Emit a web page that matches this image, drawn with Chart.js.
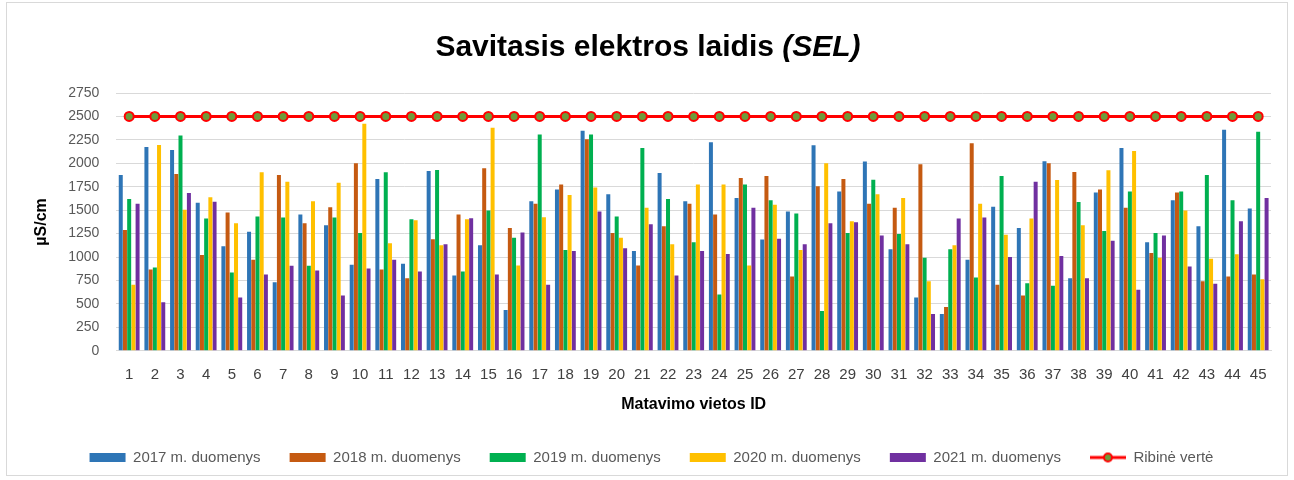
<!DOCTYPE html>
<html>
<head>
<meta charset="utf-8">
<script src="https://cdn.jsdelivr.net/npm/chart.js@4.4.1/dist/chart.umd.min.js"></script>
<style>
  html, body { margin: 0; padding: 0; background: #fff; }
  #wrap { width: 1294px; height: 480px; position: relative; }
</style>
</head>
<body>
<div id="wrap"><canvas id="selChart" width="1294" height="480"></canvas></div>
<script>
// --- data ---
const categories = ['1','2','3','4','5','6','7','8','9','10','11','12','13','14','15','16','17','18','19','20','21','22','23',
  '24','25','26','27','28','29','30','31','32','33','34','35','36','37','38','39','40','41','42','43','44','45'];

const y2017 = [1875, 2175, 2143, 1579, 1114, 1271, 732, 1454, 1339, 918, 1832, 929, 1918, 804, 1125, 436, 1596, 1721, 2346, 1671,
  1064, 1896, 1596, 2225, 1629, 1186, 1486, 2193, 1700, 2018, 1082, 568, 393, 971, 1536, 1311, 2021, 775, 1689, 2164,
  1157, 1607, 1329, 2357, 1518];
const y2018 = [1289, 868, 1886, 1021, 1475, 971, 1875, 1361, 1532, 2000, 868, 775, 1189, 1454, 1946, 1311, 1568, 1775, 2257, 1257,
  911, 1329, 1568, 1454, 1843, 1864, 793, 1754, 1832, 1568, 1525, 1989, 468, 2214, 704, 589, 2000, 1907, 1721, 1525,
  1043, 1689, 743, 793, 814];
const y2019 = [1618, 889, 2296, 1411, 836, 1432, 1421, 907, 1421, 1257, 1904, 1404, 1929, 846, 1496, 1207, 2307, 1075, 2307, 1432,
  2164, 1618, 1157, 600, 1775, 1607, 1464, 425, 1257, 1825, 1246, 993, 1082, 782, 1864, 721, 693, 1586, 1279, 1700,
  1257, 1700, 1875, 1607, 2336];
const y2020 = [704, 2196, 1504, 1639, 1361, 1904, 1804, 1596, 1793, 2421, 1146, 1393, 1125, 1404, 2379, 911, 1425, 1661, 1743, 1207,
  1525, 1136, 1775, 1775, 911, 1557, 1075, 2000, 1382, 1671, 1629, 743, 1125, 1568, 1239, 1411, 1821, 1339, 1925, 2132,
  993, 1496, 982, 1029, 764];
const y2021 = [1568, 518, 1682, 1589, 568, 814, 907, 857, 589, 879, 971, 846, 1136, 1414, 814, 1261, 704, 1064, 1486, 1093,
  1350, 804, 1064, 1032, 1525, 1196, 1136, 1361, 1371, 1229, 1136, 393, 1411, 1421, 1000, 1804, 1011, 775, 1175, 650,
  1229, 900, 714, 1382, 1629];
const ribineVerte = [2500, 2500, 2500, 2500, 2500, 2500, 2500, 2500, 2500, 2500, 2500, 2500, 2500, 2500, 2500,
  2500, 2500, 2500, 2500, 2500, 2500, 2500, 2500, 2500, 2500, 2500, 2500, 2500, 2500, 2500,
  2500, 2500, 2500, 2500, 2500, 2500, 2500, 2500, 2500, 2500, 2500, 2500, 2500, 2500, 2500];

const seriesNames = ['2017 m. duomenys', '2018 m. duomenys', '2019 m. duomenys', '2020 m. duomenys', '2021 m. duomenys', 'Ribinė vertė'];
const barColors = ['#2E75B6', '#C55A11', '#00B050', '#FFC000', '#7030A0'];

const FONT = "'Liberation Sans Narrow', 'Liberation Sans', Arial, sans-serif";

// legend symbol for the threshold line: red stroke with a green dot
const lineIcon = document.createElement('canvas');
lineIcon.width = 36; lineIcon.height = 12;
(function () {
  const c = lineIcon.getContext('2d');
  c.strokeStyle = '#FF0000'; c.lineWidth = 3;
  c.beginPath(); c.moveTo(0, 6); c.lineTo(36, 6); c.stroke();
  c.beginPath(); c.arc(18, 6, 4, 0, Math.PI * 2);
  c.fillStyle = '#6E9B3A'; c.fill();
  c.lineWidth = 2; c.stroke();
})();

// title with italic part + outer frame
const decor = {
  id: 'decor',
  beforeDraw(chart) {
    const c = chart.ctx;
    c.save();
    c.strokeStyle = '#D9D9D9'; c.lineWidth = 1;
    c.strokeRect(6.5, 2.5, 1281, 473);
    c.restore();
  },
  afterDraw(chart) {
    const c = chart.ctx;
    c.save();
    c.fillStyle = '#000';
    c.textBaseline = 'middle';
    const a = 'Savitasis elektros laidis ';
    const b = '(SEL)';
    const fa = 'bold 30px ' + FONT;
    const fb = 'italic bold 30px ' + FONT;
    c.font = fa; const wa = c.measureText(a).width;
    c.font = fb; const wb = c.measureText(b).width;
    let x = 648 - (wa + wb) / 2;
    c.font = fa; c.fillText(a, x, 48);
    c.font = fb; c.fillText(b, x + wa, 48);
    c.restore();
  }
};

const bars = [y2017, y2018, y2019, y2020, y2021].map((d, i) => ({
  type: 'bar',
  label: seriesNames[i],
  data: d,
  backgroundColor: barColors[i],
  borderWidth: 0,
  categoryPercentage: 0.82,
  barPercentage: 0.95,
  order: 1
}));

new Chart(document.getElementById('selChart').getContext('2d'), {
  data: {
    labels: categories,
    datasets: [...bars, {
      type: 'line',
      label: seriesNames[5],
      data: ribineVerte,
      borderColor: '#FF0000',
      borderWidth: 3,
      pointRadius: 4.5,
      pointBackgroundColor: '#6E9B3A',
      pointBorderColor: '#FF0000',
      pointBorderWidth: 2,
      order: 0
    }]
  },
  options: {
    responsive: false,
    animation: false,
    layout: { padding: { top: 93, left: 32, right: 23, bottom: 5 } },
    plugins: {
      tooltip: { enabled: false },
      legend: {
        position: 'bottom',
        labels: {
          usePointStyle: true,
          pointStyleWidth: 36,
          boxHeight: 9,
          padding: 29,
          color: '#595959',
          font: { family: FONT, size: 15 },
          generateLabels(chart) {
            const items = Chart.defaults.plugins.legend.labels.generateLabels(chart);
            items.forEach(it => {
              if (it.datasetIndex === 5) {
                it.pointStyle = lineIcon;
              } else {
                it.pointStyle = 'rect';
                it.lineWidth = 0;
                it.strokeStyle = it.fillStyle;
              }
            });
            return items.sort((p, q) => p.datasetIndex - q.datasetIndex);
          }
        }
      }
    },
    scales: {
      x: {
        grid: { display: false },
        border: { color: '#D9D9D9' },
        ticks: { color: '#404040', padding: 7, font: { family: FONT, size: 15 }, maxRotation: 0, autoSkip: false },
        title: { display: true, text: 'Matavimo vietos ID', color: '#000', font: { family: FONT, size: 16, weight: 'bold' }, padding: { top: 4, bottom: 7 } }
      },
      y: {
        min: 0, max: 2750,
        ticks: { stepSize: 250, color: '#595959', font: { family: FONT, size: 14 }, padding: 17,
          callback: v => String(v) },
        grid: { color: '#D9D9D9', lineWidth: 1, drawTicks: false },
        border: { display: false },
        title: { display: true, text: 'µS/cm', color: '#000', font: { family: FONT, size: 16, weight: 'bold' }, padding: { top: 0, bottom: 0 } }
      }
    }
  },
  plugins: [decor]
});
</script>
</body>
</html>
